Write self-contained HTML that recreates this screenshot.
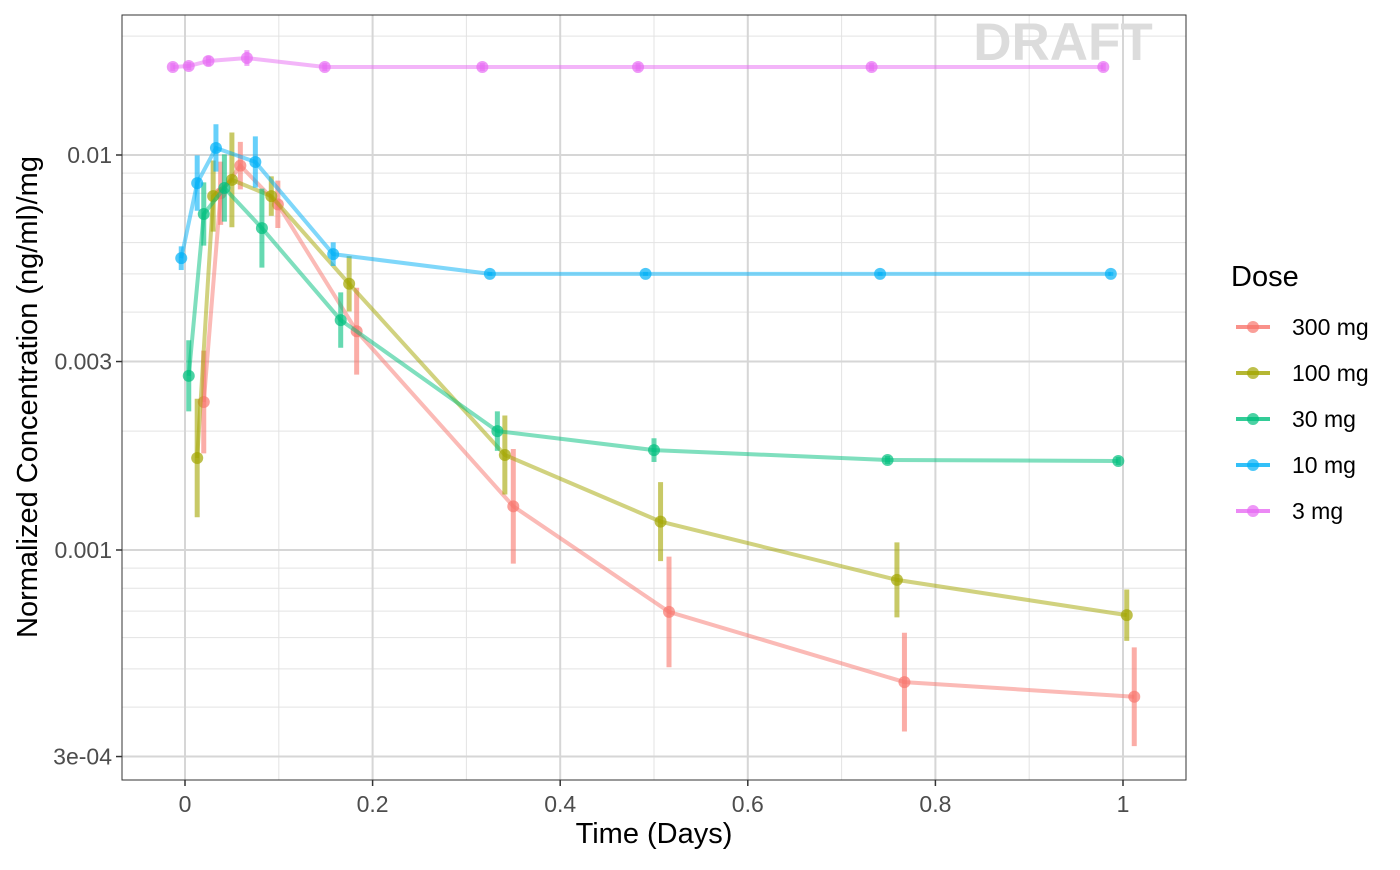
<!DOCTYPE html>
<html><head><meta charset="utf-8"><style>
body{margin:0;background:#fff;}
svg text{font-family:"Liberation Sans",Arial,sans-serif;}
</style></head><body>
<svg id="chart" width="1400" height="865" xmlns="http://www.w3.org/2000/svg"></svg>
<script>
const doses = ["300 mg","100 mg","30 mg","10 mg","3 mg"];
const colors = ["#F8766D","#A3A500","#00BF7D","#00B0F6","#E76BF3"];
const time300 = [0.020,0.038,0.059,0.099,0.183,0.350,0.516,0.767,1.012];
const conc300 = [0.00237,0.0080,0.0094,0.0075,0.00358,0.00129,0.000697,0.000463,0.000425];
const se300 = [0.13,0.08,0.06,0.06,0.11,0.145,0.14,0.125,0.125];
const time100 = [0.013,0.030,0.050,0.092,0.175,0.341,0.507,0.759,1.004];
const conc100 = [0.00171,0.00787,0.00865,0.00787,0.00472,0.00174,0.00118,0.00084,0.000684];
const se100 = [0.15,0.09,0.12,0.05,0.07,0.10,0.10,0.095,0.065];
const time30 = [0.004,0.020,0.042,0.082,0.166,0.333,0.500,0.749,0.995];
const conc30 = [0.00276,0.00709,0.00825,0.00653,0.00382,0.0020,0.00179,0.00169,0.00168];
const se30 = [0.09,0.08,0.085,0.10,0.07,0.05,0.03,0.01,0.01];
const time10 = [-0.004,0.013,0.033,0.075,0.158,0.325,0.491,0.741,0.987];
const conc10 = [0.00548,0.00849,0.01042,0.0096,0.00561,0.0050,0.0050,0.0050,0.0050];
const se10 = [0.03,0.07,0.06,0.065,0.03,0.005,0.005,0.005,0.005];
const time3 = [-0.013,0.004,0.025,0.066,0.149,0.317,0.483,0.732,0.979];
const conc3 = [0.0167,0.0168,0.0173,0.0176,0.0167,0.0167,0.0167,0.0167,0.0167];
const se3 = [0.01,0.01,0.012,0.02,0.01,0.01,0.01,0.01,0.01];
const xTicks = [0,0.2,0.4,0.6,0.8,1.0];
const xTickLabels = ["0","0.2","0.4","0.6","0.8","1"];
const yTicks = [0.01,0.003,0.001,0.0003];
const yTickLabels = ["0.01","0.003","0.001","3e-04"];

const series = [[time300,conc300,se300],[time100,conc100,se100],[time30,conc30,se30],[time10,conc10,se10],[time3,conc3,se3]];
const L=122,R=1186,T=15,B=780;
const xs = v => 185 + v*938;
const ys = v => 155 - (Math.log10(v)+2)*395;
const svg = document.getElementById('chart');
const NS="http://www.w3.org/2000/svg";
function mk(tag, attrs, parent){const e=document.createElementNS(NS,tag);for(const k in attrs)e.setAttribute(k,attrs[k]);(parent||svg).appendChild(e);return e;}

const panel = mk('g',{});


mk('rect',{x:L,y:T,width:R-L,height:B-T,fill:'#fff'},panel);
for(let d=-4; d<=-1; d++){for(let m=1;m<=9;m++){const v=m*Math.pow(10,d);const y=ys(v);if(y>T&&y<B){const g=mk('line',{x1:L,x2:R,y1:y,y2:y,stroke:'#e3e3e3','stroke-width':1},panel);}}}
for(let v=-0.1; v<=1.1; v+=0.2){const x=xs(v);if(x>L&&x<R){const g=mk('line',{x1:x,x2:x,y1:T,y2:B,stroke:'#e3e3e3','stroke-width':1},panel);}}
yTicks.forEach((v,i)=>{const y=ys(v);const g=mk('line',{x1:L,x2:R,y1:y,y2:y,stroke:'#d6d6d6','stroke-width':2},panel);
 mk('line',{x1:L-6,x2:L,y1:y,y2:y,stroke:'#333','stroke-width':1.5});
 const t=mk('text',{x:L-10,y:y+8,'text-anchor':'end','font-size':23,fill:'#4d4d4d'});t.textContent=yTickLabels[i];});
xTicks.forEach((v,i)=>{const x=xs(v);const g=mk('line',{x1:x,x2:x,y1:T,y2:B,stroke:'#d6d6d6','stroke-width':2},panel);
 mk('line',{x1:x,x2:x,y1:B,y2:B+6,stroke:'#333','stroke-width':1.5});
 const t=mk('text',{x:x,y:B+32,'text-anchor':'middle','font-size':23,fill:'#4d4d4d'});t.textContent=xTickLabels[i];});

const dr=mk('text',{x:1063,y:60,'text-anchor':'middle','font-size':53,'font-weight':'bold',fill:'#dcdcdc'});dr.textContent='DRAFT';



series.forEach((s,si)=>{
 const [tx,cy,se]=s;const c=colors[si];
 const grp=mk('g',{});
 
 
 const pts=tx.map((t,i)=>xs(t)+','+ys(cy[i])).join(' ');
 const pl=mk('polyline',{points:pts,fill:'none',stroke:c,'stroke-width':4,'stroke-opacity':0.5},grp);
 
 
 tx.forEach((t,i)=>{
  const lv=Math.log10(cy[i]);
  const eb=mk('line',{x1:xs(t),x2:xs(t),y1:ys(Math.pow(10,lv+se[i])),y2:ys(Math.pow(10,lv-se[i])),stroke:c,'stroke-width':5,'stroke-opacity':0.6},grp);
  
  
  const p=mk('circle',{cx:xs(t),cy:ys(cy[i]),r:6,fill:c,'fill-opacity':0.7},grp);
  
  
 });
});
mk('rect',{x:L,y:T,width:R-L,height:B-T,fill:'none',stroke:'#333','stroke-width':1});

const xt=mk('text',{x:654,y:843,'text-anchor':'middle','font-size':29,fill:'#000'});xt.textContent='Time (Days)';


const yt=mk('text',{x:0,y:0,'text-anchor':'middle','font-size':29,fill:'#000',transform:'translate(37,397) rotate(-90)'});yt.textContent='Normalized Concentration (ng/ml)/mg';



const lg=mk('g',{});


const lt=mk('text',{x:1231,y:286,'font-size':29,fill:'#000'},lg);lt.textContent='Dose';


doses.forEach((d,i)=>{
 const y=327+i*46;
 const e=mk('g',{},lg);
 
 
 mk('line',{x1:1236,x2:1270,y1:y,y2:y,stroke:colors[i],'stroke-width':4,'stroke-opacity':0.8},e);
 mk('circle',{cx:1253,cy:y,r:6,fill:colors[i],'fill-opacity':0.7},e);
 const t=mk('text',{x:1292,y:y+8,'font-size':23,fill:'#000'},e);t.textContent=d;
});
</script>
</body></html>
